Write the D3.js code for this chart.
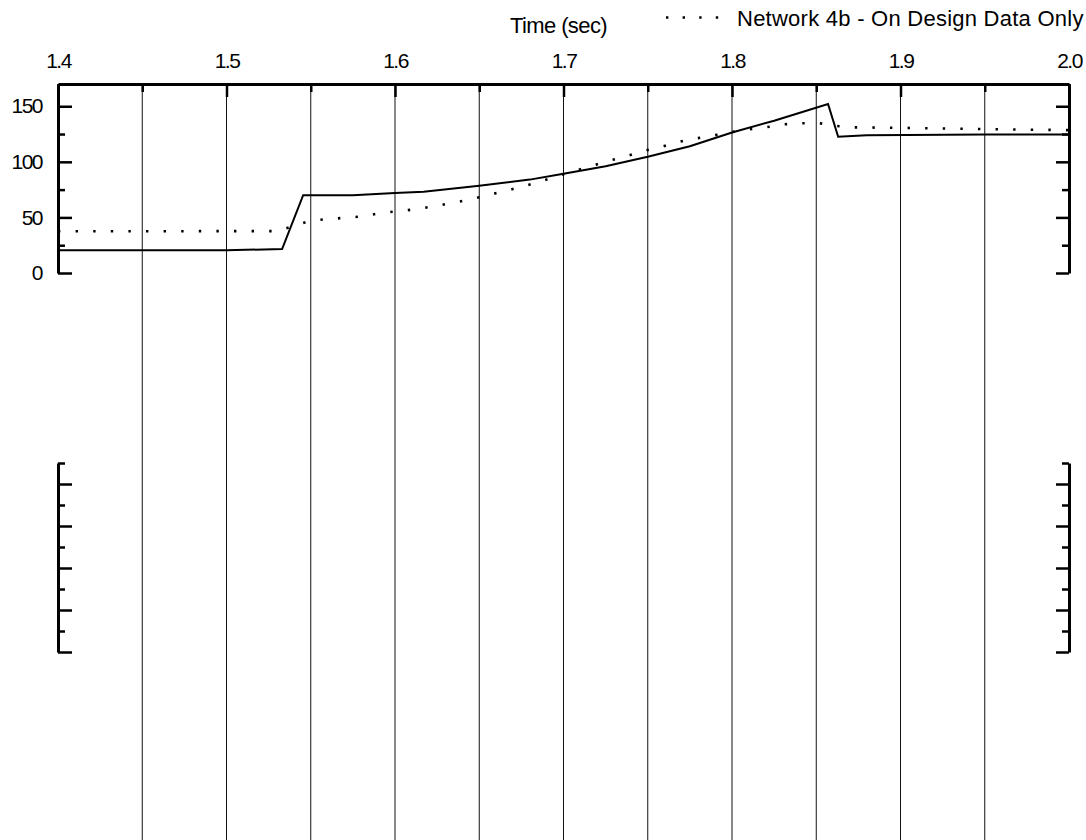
<!DOCTYPE html>
<html>
<head>
<meta charset="utf-8">
<script src="https://cdn.jsdelivr.net/npm/d3@7"></script>
<style>
  body { margin: 0; background: #fff; }
  svg { display: block; font-family: "Liberation Sans", Arial, sans-serif; }
  .axis path, .axis line { stroke: #000; }
  .axis text { fill: #000; font-size: 21px; letter-spacing: -1.5px; }
</style>
</head>
<body>
<div id="chart"></div>
<script>
// time axis ticks
var majorTimes = [1.4, 1.5, 1.6, 1.7, 1.8, 1.9, 2.0];
var minorTimes = [1.45, 1.55, 1.65, 1.75, 1.85, 1.95];
var gridTimes = [1.45, 1.5, 1.55, 1.6, 1.65, 1.7, 1.75, 1.8, 1.85, 1.9, 1.95];

// upper panel y ticks
var topMajor = [0, 50, 100, 150];
var topMinor = [25, 75, 125];
// lower (empty) panel ticks, no labels
var lowMajor = [0, 1, 2, 3, 4];
var lowMinor = [0.5, 1.5, 2.5, 3.5, 4.5];

// solid series (time, value)
var solidTime  = [1.400, 1.500, 1.533, 1.5455, 1.575, 1.600, 1.617, 1.650, 1.680, 1.700, 1.725, 1.750, 1.775, 1.800, 1.825, 1.857, 1.863, 1.880, 1.950, 2.000];
var solidValue = [20.5, 20.5, 21.5, 70, 70, 72, 73, 78.4, 84, 89.3, 96, 104.5, 114, 126.4, 137, 152, 122.5, 124, 124.5, 124.5];

// dotted series: Network 4b - On Design Data Only
var dotTime  = [1.400, 1.530, 1.550, 1.560, 1.571, 1.581, 1.592, 1.602, 1.613, 1.623, 1.634, 1.644, 1.655, 1.665, 1.675, 1.686, 1.696, 1.706, 1.716, 1.726, 1.737, 1.747, 1.757, 1.767, 1.777, 1.788, 1.798, 1.809, 1.820, 1.830, 1.840, 1.851, 1.862, 1.872, 1.904, 1.950, 2.000];
var dotValue = [37.5, 37.7, 47, 48.5, 49.7, 51, 54, 55.6, 57.5, 60, 63, 66, 70, 73.6, 77.5, 82, 87, 91.6, 96, 100.6, 105, 109.6, 113, 117.4, 120.6, 123.4, 126.4, 129, 131, 133.6, 134.6, 135, 132.3, 131, 130.5, 129.4, 128.5];

var legendLabel = "Network 4b - On Design Data Only";
var xTitle = "Time (sec)";

var W = 1086, H = 840;
var plotLeft = 58, plotRight = 1069, plotTop = 84;

var svg = d3.select('#chart').append('svg')
    .attr('width', W)
    .attr('height', H);

var x = d3.scaleLinear().domain([1.4, 2.0]).range([plotLeft, plotRight]);
var y1 = d3.scaleLinear().domain([0, 170]).range([273, plotTop]);
var y2 = d3.scaleLinear().domain([0, 4.5]).range([652, 463]);

// vertical grid lines, run off the bottom
svg.append('g')
    .selectAll('line')
    .data(gridTimes)
    .enter().append('line')
      .attr('x1', function(d) { return x(d); })
      .attr('x2', function(d) { return x(d); })
      .attr('y1', plotTop)
      .attr('y2', H)
      .attr('stroke', '#111')
      .attr('stroke-width', 1);

// top time axis, ticks pointing down, labels above
var gx = svg.append('g')
    .attr('class', 'axis')
    .attr('transform', 'translate(0,' + plotTop + ')')
    .call(d3.axisTop(x).tickValues(majorTimes).tickSizeInner(-13).tickSizeOuter(0)
        .tickPadding(16).tickFormat(d3.format('.1f')));
gx.select('.domain').attr('stroke-width', 3);
gx.selectAll('.tick line').attr('stroke-width', 2.5);

var gxm = svg.append('g')
    .attr('class', 'axis')
    .attr('transform', 'translate(0,' + plotTop + ')')
    .call(d3.axisTop(x).tickValues(minorTimes).tickSizeInner(-8).tickSizeOuter(0).tickFormat(''));
gxm.select('.domain').remove();
gxm.selectAll('.tick line').attr('stroke-width', 2.5);

svg.append('text')
    .attr('x', x(1.7) - 5)
    .attr('y', 33)
    .attr('text-anchor', 'middle')
    .style('font-size', '22px')
    .style('letter-spacing', '-0.6px')
    .text(xTitle);

// y axes: one on each side, ticks pointing inward
function yAxes(scale, major, minor, labels) {
    var gl = svg.append('g')
        .attr('class', 'axis')
        .attr('transform', 'translate(' + plotLeft + ',0)')
        .call(d3.axisLeft(scale).tickValues(major).tickSizeInner(-14).tickSizeOuter(0)
            .tickPadding(16).tickFormat(labels ? d3.format('d') : ''));
    gl.select('.domain').attr('stroke-width', 3);
    gl.selectAll('.tick line').attr('stroke-width', 2.5);
    gl.append('g').call(d3.axisLeft(scale).tickValues(minor).tickSizeInner(-7).tickSizeOuter(0).tickFormat(''))
      .call(function(s) { s.select('.domain').remove(); s.selectAll('line').attr('stroke-width', 2.5); });

    var gr = svg.append('g')
        .attr('class', 'axis')
        .attr('transform', 'translate(' + plotRight + ',0)')
        .call(d3.axisRight(scale).tickValues(major).tickSizeInner(-13).tickSizeOuter(0).tickFormat(''));
    gr.select('.domain').attr('stroke-width', 3);
    gr.selectAll('.tick line').attr('stroke-width', 2.5);
    gr.append('g').call(d3.axisRight(scale).tickValues(minor).tickSizeInner(-7).tickSizeOuter(0).tickFormat(''))
      .call(function(s) { s.select('.domain').remove(); s.selectAll('line').attr('stroke-width', 2.5); });
}
yAxes(y1, topMajor, topMinor, true);
yAxes(y2, lowMajor, lowMinor, false);

// series
var solid = solidTime.map(function(t, i) { return [t, solidValue[i]]; });
var dotted = dotTime.map(function(t, i) { return [t, dotValue[i]]; });

var line = d3.line()
    .x(function(d) { return x(d[0]); })
    .y(function(d) { return y1(d[1]); });

svg.append('path')
    .datum(solid)
    .attr('fill', 'none')
    .attr('stroke', '#000')
    .attr('stroke-width', 2)
    .attr('d', line);

svg.append('path')
    .datum(dotted)
    .attr('fill', 'none')
    .attr('stroke', '#000')
    .attr('stroke-width', 2.6)
    .attr('stroke-dasharray', '2.4 15.2')
    .attr('d', line);

// legend, runs past the right edge like the original
svg.append('line')
    .attr('x1', 666).attr('x2', 722)
    .attr('y1', 17.5).attr('y2', 17.5)
    .attr('stroke', '#000')
    .attr('stroke-width', 2.6)
    .attr('stroke-dasharray', '2.4 14.2');

svg.append('text')
    .attr('x', 737)
    .attr('y', 26)
    .style('font-size', '22px')
    .style('letter-spacing', '0.25px')
    .text(legendLabel);
</script>
</body>
</html>
